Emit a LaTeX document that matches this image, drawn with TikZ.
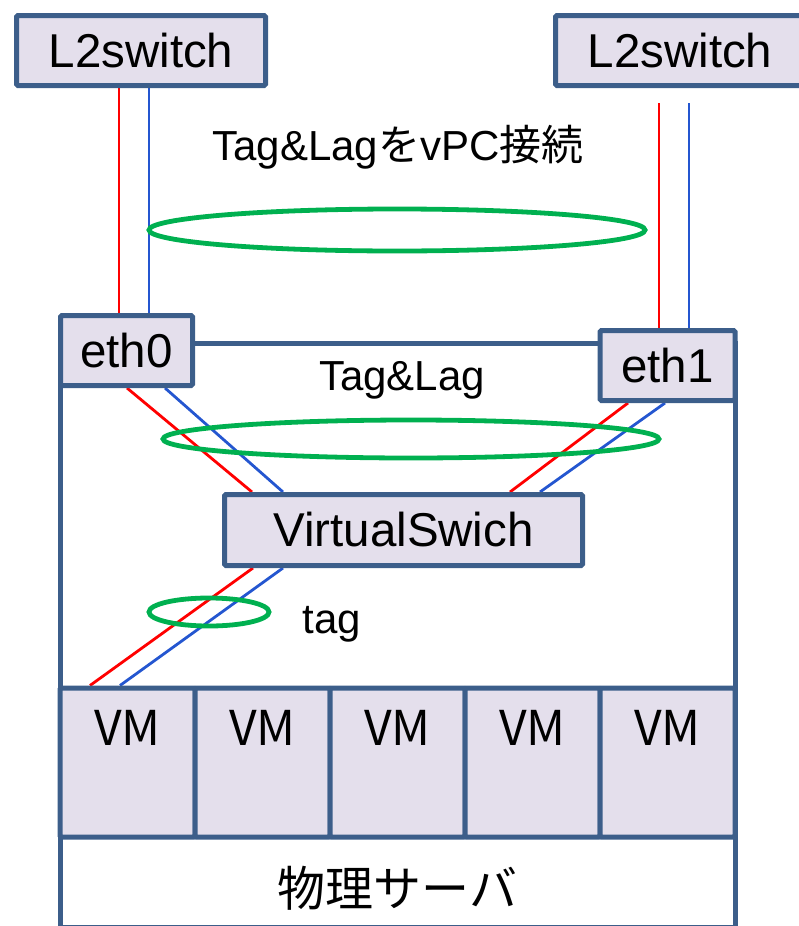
\documentclass[tikz,border=0pt]{standalone}
\usepackage{fontspec}
\setmainfont{Liberation Sans}
\newfontfamily\cjk{Noto Sans CJK JP}
\usetikzlibrary{shapes.geometric}
\definecolor{frame}{RGB}{60,94,138}
\definecolor{boxfill}{RGB}{228,223,236}
\definecolor{tagred}{RGB}{255,0,0}
\definecolor{tagblue}{RGB}{36,86,208}
\definecolor{laggreen}{RGB}{0,176,80}
\pgfdeclarelayer{wires}
\pgfsetlayers{wires,main}

\begin{document}
\begin{tikzpicture}[x=1pt,y=-1pt,
  box/.style={draw=frame, line width=5pt, fill=boxfill, rounded corners=1.5pt,
    inner sep=0pt, font=\fontsize{47.5}{47.5}\selectfont},
  vmbox/.style={box, minimum width=135pt, minimum height=149pt,
    font=\cjk\fontsize{48}{48}\selectfont, text height=0pt, text depth=35pt},
  lag/.style={draw=laggreen, line width=4.8pt, ellipse, inner sep=0pt},
  redw/.style={draw=tagred, line width=2.8pt},
  bluew/.style={draw=tagblue, line width=2.8pt},
  caption/.style={anchor=base, inner sep=0pt, font=\fontsize{42}{42}\selectfont}]

\useasboundingbox (0,0) rectangle (798,926);

% physical server frame
\node[draw=frame, line width=5pt, inner sep=0pt, minimum width=675pt,
      minimum height=584pt] (server) at (397.5,635) {};
\node[anchor=base, inner sep=0pt, font=\cjk\fontsize{48}{48}\selectfont]
      (servername) at ([yshift=23pt]server.south) {物理サーバ};

% virtual machines
\foreach \i/\x in {1/127.5,2/262.5,3/397.5,4/532.5,5/667.5}
  \node[vmbox] (vm\i) at (\x,762.5) {VM};

% switches and interfaces
\node[box, minimum width=249pt, minimum height=70pt] (l2a) at (141,50.5) {L2switch};
\node[box, minimum width=249pt, minimum height=70pt] (l2b) at (680,50.5) {L2switch};
\node[box, minimum width=132pt, minimum height=70pt] (eth0) at (126.5,350.5) {eth0};
\node[box, minimum width=135pt, minimum height=70pt] (eth1) at (667.5,365.5) {eth1};
\node[box, minimum width=358pt, minimum height=71pt] (vs) at (403.5,530) {VirtualSwich};

% tagged links
\begin{pgfonlayer}{wires}
\draw[redw]  ([xshift=-22pt]l2a.south) -- ([xshift=-7.5pt]eth0.north);
\draw[bluew] ([xshift=8pt]l2a.south)   -- ([xshift=22.5pt]eth0.north);
\draw[redw]  ([xshift=-21pt,yshift=-15pt]l2b.south) -- ([xshift=-8.5pt]eth1.north);
\draw[bluew] ([xshift=9pt,yshift=-15pt]l2b.south)   -- ([xshift=21.5pt]eth1.north);
\draw[redw]  ([xshift=0.5pt]eth0.south)  -- ([xshift=-151.5pt]vs.north);
\draw[bluew] ([xshift=38.5pt]eth0.south) -- ([xshift=-120.5pt]vs.north);
\draw[redw]  ([xshift=-39.5pt]eth1.south)  -- ([xshift=106.5pt]vs.north);
\draw[bluew] ([xshift=-2.5pt]eth1.south)   -- ([xshift=136.5pt]vs.north);
\draw[redw]  ([xshift=-150.5pt]vs.south) -- ([xshift=-37.5pt]vm1.north);
\draw[bluew] ([xshift=-120.5pt]vs.south) -- ([xshift=-7.5pt]vm1.north);
\end{pgfonlayer}

% link aggregation rings
\node[lag, minimum width=496pt, minimum height=42pt] (vpcring) at (397,230) {};
\node[lag, minimum width=496pt, minimum height=38pt] (lagring) at (411,439) {};
\node[lag, minimum width=120pt, minimum height=28pt] (tagring) at (209,612) {};

% labels
\node[caption] (vpctext) at (398,160) {Tag\&Lag{\cjk を}vPC{\cjk 接続}};
\node[caption] (lagtext) at (402,390) {Tag\&Lag};
\node[caption] (tagtext) at (332,633) {tag};
\end{tikzpicture}
\end{document}
